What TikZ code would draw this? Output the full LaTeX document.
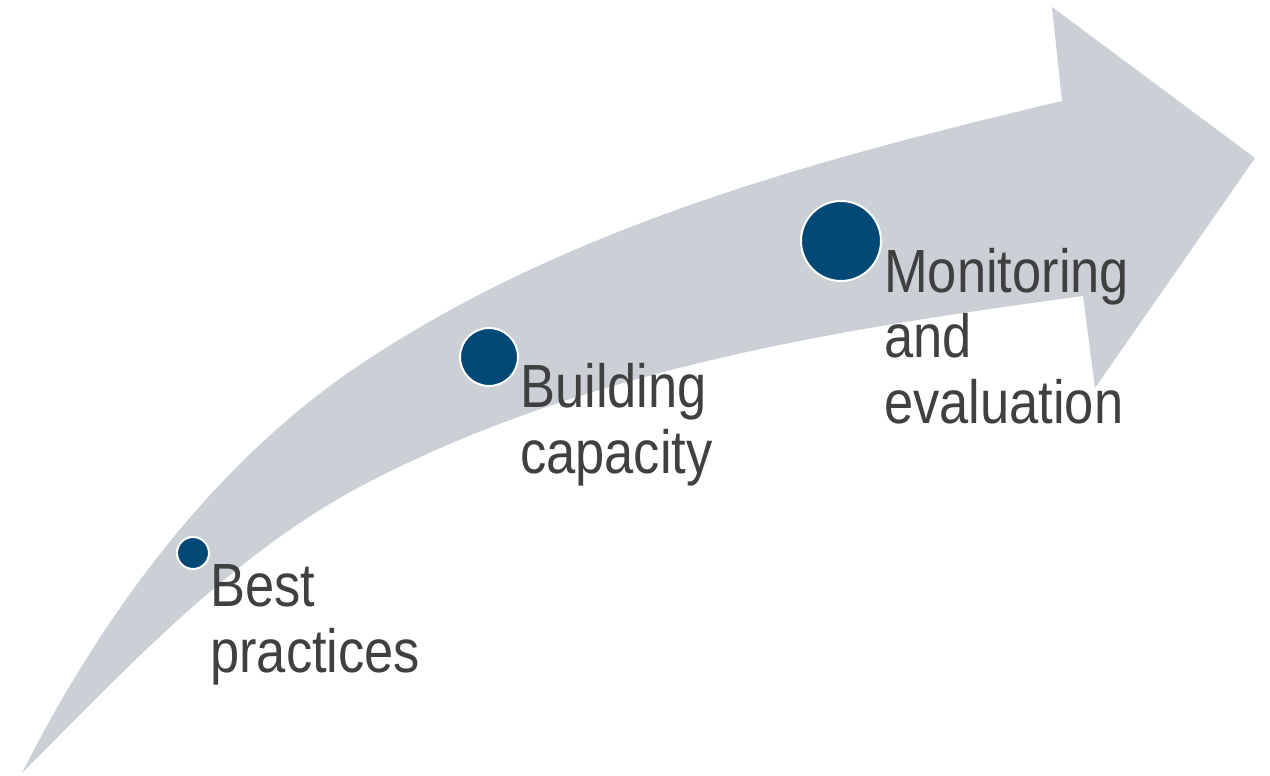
\documentclass[tikz,border=0pt]{standalone}
\usepackage{fontspec}
\setmainfont{Liberation Sans}[FakeStretch=0.86]
\definecolor{arrowgray}{HTML}{CBD0D7}
\definecolor{dotblue}{HTML}{004876}
\definecolor{labelgray}{HTML}{404040}
\begin{document}
\begin{tikzpicture}[x=1pt,y=-1pt,
  dot/.style={circle,fill=dotblue,draw=white,line width=2pt,inner sep=0pt},
  label/.style={anchor=base west,inner sep=0pt,align=left,text=labelgray,
    font=\fontsize{61}{65.5}\selectfont}]
\useasboundingbox (0,0) rectangle (1270,776);
\fill[arrowgray] (22,773)
  .. controls (103,613) and (216,459) .. (367,360)
  .. controls (574,224) and (822,158) .. (1062,101)
  -- (1052,7) -- (1255,158) -- (1095,388) -- (1083,296)
  .. controls (838,329) and (586,369) .. (367,483)
  .. controls (234,552) and (128,667) .. (22,773) -- cycle;
\node[dot,minimum size=32pt] (d1) at (193,553) {};
\node[dot,minimum size=58pt] (d2) at (489,357) {};
\node[dot,minimum size=80pt] (d3) at (841,241) {};
\node[label] (t1) at (210,672) {Best\\practices};
\node[label] (t2) at (520,473) {Building\\capacity};
\node[label] (t3) at (884,423) {Monitoring\\and\\evaluation};
\end{tikzpicture}
\end{document}
